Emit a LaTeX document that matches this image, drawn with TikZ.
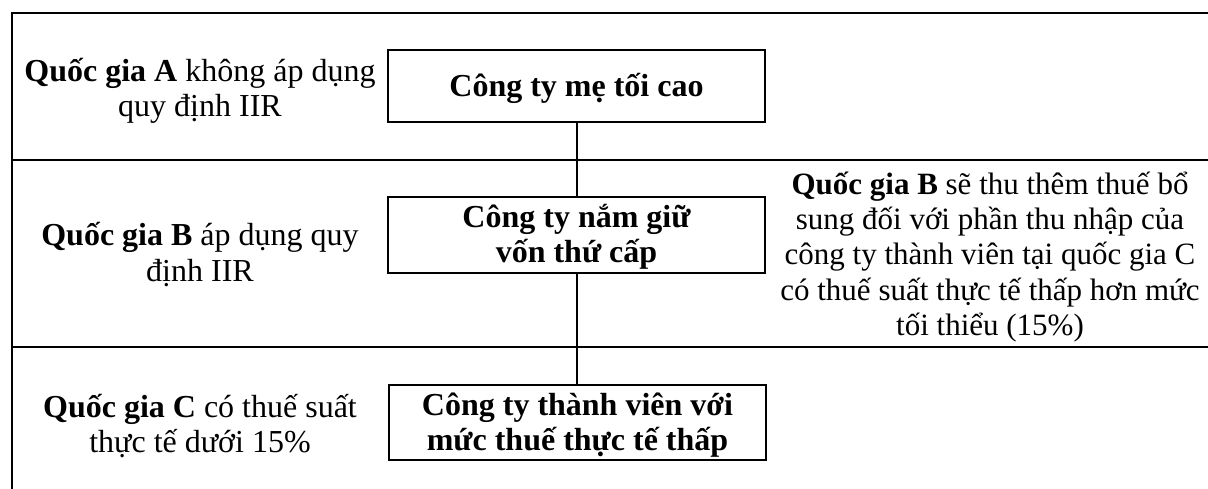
\documentclass[tikz,border=0pt]{standalone}
\usepackage{fontspec}
\setmainfont{Liberation Serif}
\begin{document}
\begin{tikzpicture}[x=1pt,y=-1pt,
  rule/.style={line width=2pt, line cap=rect},
  firm/.style={draw, line width=2pt, minimum width=377pt, inner sep=0pt},
  txt/.style={anchor=base, inner sep=0pt, font=\fontsize{32}{35}\selectfont},
  btxt/.style={txt, font=\fontsize{32}{35}\selectfont\bfseries},
  note/.style={anchor=base, inner sep=0pt, font=\fontsize{31}{35}\selectfont},
  link/.style={line width=2pt}]
\useasboundingbox (0,0) rectangle (1208,489);

% table rules: top, left and the two row separators
\draw[rule] (12,489) -- (12,13) -- (1208,13);
\draw[rule] (12,160) -- (1208,160);
\draw[rule] (12,347) -- (1208,347);

% left column: country descriptions
\node[txt] (a1) at (200,82)  {\textbf{Quốc gia A} không áp dụng};
\node[txt] (a2) at (200,117) {quy định IIR};
\node[txt] (b1) at (200,246) {\textbf{Quốc gia B} áp dụng quy};
\node[txt] (b2) at (200,281) {định IIR};
\node[txt] (c1) at (200,417) {\textbf{Quốc gia C} có thuế suất};
\node[txt] (c2) at (200,452) {thực tế dưới 15\%};

% ownership chain
\node[firm, minimum height=72pt] (parent) at (576.5,86) {};
\node[firm, minimum height=76pt] (holding) at (576.5,235) {};
\node[firm, minimum height=75pt] (member) at (577.5,422.5) {};

\node[btxt] (parentT) at (576.5,97) {Công ty mẹ tối cao};
\node[btxt] (holdingT1) at (576.5,228) {Công ty nắm giữ};
\node[btxt] (holdingT2) at (576.5,263) {vốn thứ cấp};
\node[btxt] (memberT1) at (577.5,415) {Công ty thành viên với};
\node[btxt] (memberT2) at (577.5,450) {mức thuế thực tế thấp};

\draw[link] (parent.south) -- (parent.south |- holding.north);
\draw[link] (holding.south) -- (holding.south |- member.north);

% right column: top-up tax note
\node[note] (r1) at (990,195) {\textbf{Quốc gia B} sẽ thu thêm thuế bổ};
\node[note] (r2) at (990,230) {sung đối với phần thu nhập của};
\node[note] (r3) at (990,265) {công ty thành viên tại quốc gia C};
\node[note] (r4) at (990,300) {có thuế suất thực tế thấp hơn mức};
\node[note] (r5) at (990,335) {tối thiểu (15\%)};
\end{tikzpicture}
\end{document}
